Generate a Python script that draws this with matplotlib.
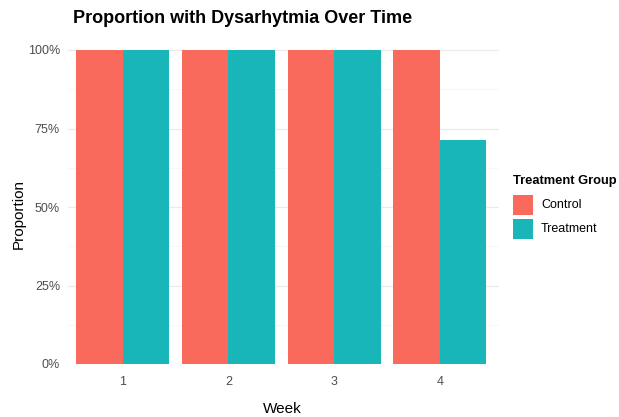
import matplotlib
matplotlib.use("Agg")
import matplotlib.pyplot as plt
import numpy as np
from matplotlib.patches import Rectangle

weeks = ["1", "2", "3", "4"]
groups = ["Control", "Treatment"]
control = [1.0, 1.0, 1.0, 1.0]
treatment = [1.0, 1.0, 1.0, 0.714]
colors = ["#FA6A5C", "#19B6B9"]
y_ticks = [0, 0.25, 0.5, 0.75, 1.0]
y_labels = ["0%", "25%", "50%", "75%", "100%"]

plt.rcParams['font.family'] = ['Liberation Sans', 'DejaVu Sans']

W, H = 619, 417
fig = plt.figure(figsize=(W / 100, H / 100), dpi=100)
left, right, top, bottom = 68, 499, 34.3, 364
ax = fig.add_axes([left / W, (H - bottom) / H, (right - left) / W, (bottom - top) / H])

x = np.arange(1, len(weeks) + 1)
w = 0.44
ax.bar(x - w / 2, control, width=w, color=colors[0], zorder=3)
ax.bar(x + w / 2, treatment, width=w, color=colors[1], zorder=3)

ax.set_xlim(0.481, 4.5615)
ax.set_ylim(0, 1.05)
ax.set_xticks(x)
ax.set_xticklabels(weeks)
ax.set_yticks(y_ticks)
ax.set_yticklabels(y_labels)
ax.set_yticks([0.125, 0.375, 0.625, 0.875], minor=True)
ax.grid(axis='y', which='major', color='#EBEBEB', linewidth=0.9, zorder=0)
ax.grid(axis='y', which='minor', color='#F4F4F4', linewidth=0.5, zorder=0)
for s in ax.spines.values():
    s.set_visible(False)
ax.tick_params(axis='both', which='both', length=0, labelsize=9, labelcolor='#4D4D4D')
ax.tick_params(axis='y', pad=5.8)
ax.tick_params(axis='x', pad=8.8)

fig.text(282.5 / W, (H - 412.7) / H, "Week", fontsize=11, ha='center', va='baseline')
fig.text(19 / W, (H - 214) / H, "Proportion", fontsize=11, rotation=90,
         ha='center', va='center')
fig.text(73.3 / W, (H - 22.7) / H, "Proportion with Dysarhytmia Over Time",
         fontsize=13, fontweight='bold', ha='left', va='baseline')

# legend
fig.text(513 / W, (H - 184.3) / H, "Treatment Group", fontsize=9.3,
         fontweight='bold', ha='left', va='baseline')
key_tops = [195, 218.5]
for c, lab, kt in zip(colors, groups, key_tops):
    fig.add_artist(Rectangle((512.5 / W, (H - kt - 20) / H), 20.5 / W, 20 / H,
                             facecolor=c, edgecolor='none', transform=fig.transFigure))
    fig.text(541 / W, (H - kt - 10) / H, lab, fontsize=9, ha='left', va='center')

fig.savefig("out.png", dpi=100, facecolor='white')
